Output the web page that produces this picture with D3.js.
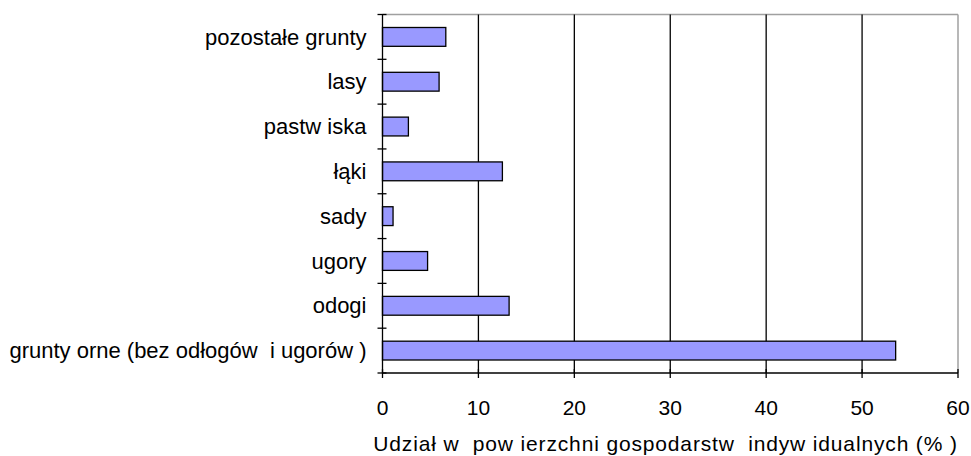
<!DOCTYPE html>
<html>
<head>
<meta charset="utf-8">
<script src="https://cdn.jsdelivr.net/npm/d3@7"></script>
<style>
  body { margin: 0; background: #fff; }
  text { font-family: Arial, "Liberation Sans", sans-serif; fill: #000; }
</style>
</head>
<body>
<div id="chart"></div>
<script>
// data
const categories = ["pozostałe grunty", "lasy", "pastw iska", "łąki", "sady", "ugory", "odogi", "grunty orne (bez odłogów  i ugorów )"];
const values = [6.6, 5.9, 2.7, 12.5, 1.1, 4.7, 13.2, 53.5];
const xTicks = [0, 10, 20, 30, 40, 50, 60];
const xTitle = "Udział w  pow ierzchni gospodarstw  indyw idualnych (% )";

const size = {width: 971, height: 456};
const margin = {top: 14.5, right: 13, bottom: 83, left: 382.5};
const width = size.width - margin.left - margin.right;
const height = size.height - margin.top - margin.bottom;

const svg = d3.select("#chart")
    .append("svg")
    .attr("width", size.width)
    .attr("height", size.height);

const g = svg.append("g")
    .attr("transform", "translate(" + margin.left + "," + margin.top + ")");

const xScale = d3.scaleLinear().domain([0, 60]).range([0, width]);
const yScale = d3.scaleBand()
    .domain(categories)
    .range([0, height])
    .paddingInner(0.58)
    .paddingOuter(0.29);

const step = yScale.step();

// plot frame (top and right, gray)
g.append("line")
    .attr("x1", 0).attr("x2", width).attr("y1", 0).attr("y2", 0)
    .attr("stroke", "#a0a0a0").attr("stroke-width", 1.5);
g.append("line")
    .attr("x1", width).attr("x2", width).attr("y1", 0).attr("y2", height)
    .attr("stroke", "#a0a0a0").attr("stroke-width", 1.5);

// vertical gridlines
g.selectAll(".grid")
    .data(xTicks.filter(d => d > 0 && d < 60))
    .join("line")
    .attr("class", "grid")
    .attr("x1", d => xScale(d)).attr("x2", d => xScale(d))
    .attr("y1", 0).attr("y2", height)
    .attr("stroke", "#000").attr("stroke-width", 1.3);

// bars
g.selectAll(".bar")
    .data(categories)
    .join("rect")
    .attr("class", "bar")
    .attr("x", 0)
    .attr("y", d => yScale(d))
    .attr("width", (d, i) => xScale(values[i]))
    .attr("height", yScale.bandwidth())
    .attr("fill", "#9999ff")
    .attr("stroke", "#000")
    .attr("stroke-width", 1.3);

// y axis line and ticks at band boundaries
g.append("line")
    .attr("x1", 0).attr("x2", 0).attr("y1", 0).attr("y2", height)
    .attr("stroke", "#000").attr("stroke-width", 1.3);
const bounds = d3.range(categories.length + 1).map(i => i * step);
g.selectAll(".ytick")
    .data(bounds)
    .join("line")
    .attr("class", "ytick")
    .attr("x1", -5).attr("x2", 4)
    .attr("y1", d => d).attr("y2", d => d)
    .attr("stroke", "#000").attr("stroke-width", 1.3);

g.selectAll(".ylabel")
    .data(categories)
    .join("text")
    .attr("class", "ylabel")
    .attr("x", -16)
    .attr("y", d => yScale(d) + yScale.bandwidth() / 2)
    .attr("dy", "0.35em")
    .attr("text-anchor", "end")
    .style("font-size", "22px")
    .style("white-space", "pre")
    .text(d => d);

// x axis
g.append("line")
    .attr("x1", 0).attr("x2", width).attr("y1", height).attr("y2", height)
    .attr("stroke", "#000").attr("stroke-width", 1.3);
g.selectAll(".xtick")
    .data(xTicks)
    .join("line")
    .attr("class", "xtick")
    .attr("x1", d => xScale(d)).attr("x2", d => xScale(d))
    .attr("y1", height - 4).attr("y2", height + 5)
    .attr("stroke", "#000").attr("stroke-width", 1.3);
g.selectAll(".xlabel")
    .data(xTicks)
    .join("text")
    .attr("class", "xlabel")
    .attr("x", d => xScale(d))
    .attr("y", height + 42)
    .attr("text-anchor", "middle")
    .style("font-size", "21px")
    .text(d => d);

g.append("text")
    .attr("x", 283)
    .attr("y", height + 78)
    .attr("text-anchor", "middle")
    .style("font-size", "21px")
    .style("letter-spacing", "0.85px")
    .style("white-space", "pre")
    .text(xTitle);
</script>
</body>
</html>
